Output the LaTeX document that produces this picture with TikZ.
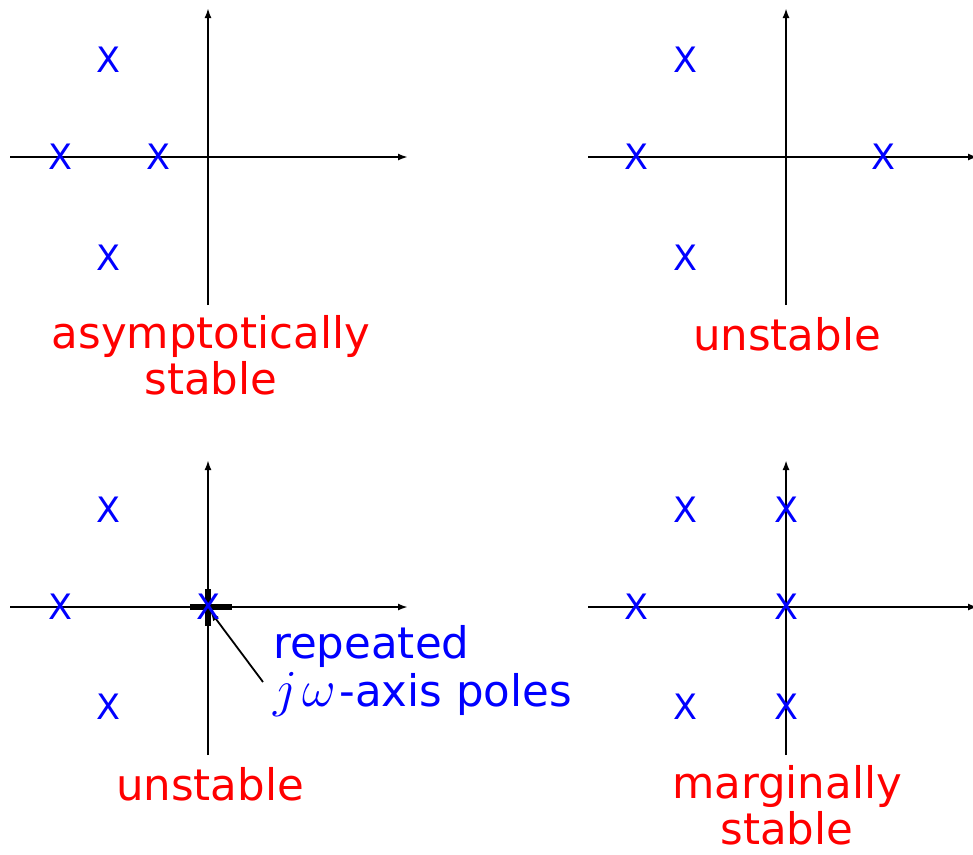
\RequirePackage{fix-cm}
\documentclass[tikz,border=0pt]{standalone}
\usepackage{fontspec}
\setmainfont{DejaVu Sans}
\usetikzlibrary{arrows.meta, positioning}
\tikzset{
  pole/.style={text=blue, inner sep=0pt, font=\fontsize{35}{35}\selectfont},
  verdict/.style={text=red, inner sep=0pt, anchor=north, align=center, font=\fontsize{43.5}{46}\selectfont},
  axis/.style={->, line width=2.2pt},
}
\newcommand{\jwaxis}{{\fontsize{52}{46}\selectfont$j\mkern2mu\omega\mkern1mu$}}
\begin{document}
\begin{tikzpicture}[x=1pt, y=-1pt, >={Latex[length=10pt, width=7pt]}]
    \useasboundingbox (0,0) rectangle (973,854);
    % axes
    \draw[axis] (10,157) -- (408,157);
    \draw[axis] (208,305) -- (208,8);
    \draw[axis] (588,157) -- (978,157);
    \draw[axis] (786,305) -- (786,8);
    \draw[axis] (10,607) -- (408,607);
    \draw[axis] (208,755) -- (208,460);
    \draw[axis] (588,607) -- (978,607);
    \draw[axis] (786,755) -- (786,460);
    % asymptotically stable
    \node[pole] (a1) at (108,60) {X};
    \node[pole] (a2) at (60,157) {X};
    \node[pole] (a3) at (158,157) {X};
    \node[pole] (a4) at (108,258) {X};
    \node[verdict] (asym) at (211,315) {asymptotically\\stable};
    % unstable, pole in right half plane
    \node[pole] (b1) at (685,60) {X};
    \node[pole] (b2) at (636,157) {X};
    \node[pole] (b3) at (883,157) {X};
    \node[pole] (b4) at (685,258) {X};
    \node[verdict] (unst) at (787,317) {unstable};
    % unstable, repeated poles at origin
    \coordinate (tail) at (263,682);
    \draw[->, line width=1.8pt] (tail) -- (210,611);
    \draw[line width=6pt] (190,607) -- (232,607);
    \draw[line width=6pt] (208,589) -- (208,626);
    \node[pole] (c1) at (108,510) {X};
    \node[pole] (c2) at (60,607) {X};
    \node[pole] (c3) at (208,607) {X};
    \node[pole] (c4) at (108,707) {X};
    \node[text=blue, inner sep=0pt, anchor=north west, align=left,
          font=\fontsize{43.5}{48}\selectfont] (note) at (273,625) {repeated\\\jwaxis-axis poles};
    \node[verdict] (unst2) at (210,767) {unstable};
    % marginally stable
    \node[pole] (d1) at (685,510) {X};
    \node[pole] (d2) at (786,510) {X};
    \node[pole] (d3) at (636,607) {X};
    \node[pole] (d4) at (786,607) {X};
    \node[pole] (d5) at (685,707) {X};
    \node[pole] (d6) at (786,707) {X};
    \node[verdict] (marg) at (787,765) {marginally\\stable};
\end{tikzpicture}
\end{document}
